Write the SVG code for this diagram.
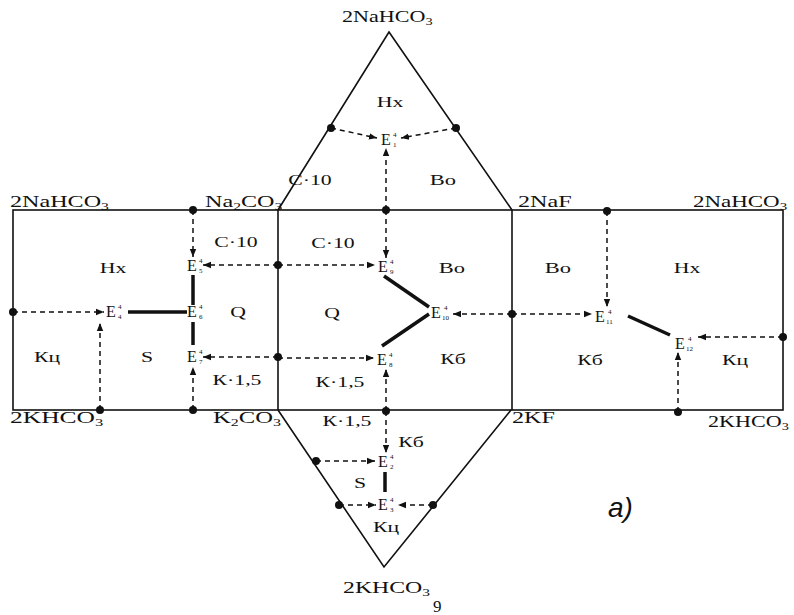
<svg xmlns="http://www.w3.org/2000/svg" width="794" height="615" viewBox="0 0 794 615">
<style>
text{font-family:"Liberation Serif","Times New Roman",serif;fill:#111}
.f text{font-size:17px}
.s{font-size:11px}
.r text{font-size:15px;text-anchor:middle}
.e{font-size:16px}
.t{font-size:7px}
.o{fill:none;stroke:#111;stroke-width:1.6}
.d{fill:none;stroke:#111;stroke-width:1.5;stroke-dasharray:5 4;marker-end:url(#ah)}
.k{fill:none;stroke:#111;stroke-width:3.5}
.p{fill:#111}
</style>
<defs>
<marker id="ah" viewBox="0 0 10 10" refX="10" refY="5" markerWidth="8" markerHeight="8" orient="auto" markerUnits="userSpaceOnUse"><path d="M0,1 L10,5 L0,9 z" fill="#111"/></marker>
</defs>
<rect width="794" height="615" fill="#fff"/>
<g id="outline">
<rect class="o" x="13" y="210" width="770" height="200"/>
<line class="o" x1="278" y1="210" x2="278" y2="410"/>
<line class="o" x1="512" y1="210" x2="512" y2="410"/>
<polyline class="o" points="278,210 389,32 512,210"/>
<polyline class="o" points="278,410 384,567 511,410"/>
</g>
<g id="formulas" class="f">
<text transform="translate(342,22) scale(1.3,1)">2NaHCO<tspan class="s" dy="3">3</tspan></text>
<text transform="translate(10,207) scale(1.42,1)">2NaHCO<tspan class="s" dy="3">3</tspan></text>
<text transform="translate(205,207) scale(1.42,1)">Na<tspan class="s" dy="3">2</tspan><tspan dy="-3">CO</tspan><tspan class="s" dy="3">3</tspan></text>
<text transform="translate(518,207) scale(1.42,1)">2NaF</text>
<text transform="translate(693,207) scale(1.35,1)">2NaHCO<tspan class="s" dy="3">3</tspan></text>
<text transform="translate(10,423) scale(1.5,1)">2KHCO<tspan class="s" dy="3">3</tspan></text>
<text transform="translate(213,423) scale(1.45,1)">K<tspan class="s" dy="3">2</tspan><tspan dy="-3">CO</tspan><tspan class="s" dy="3">3</tspan></text>
<text transform="translate(512,423) scale(1.42,1)">2KF</text>
<text transform="translate(708,427) scale(1.3,1)">2KHCO<tspan class="s" dy="3">3</tspan></text>
<text transform="translate(343,593) scale(1.4,1)">2KHCO<tspan class="s" dy="3">3</tspan></text>
<text transform="translate(433,612)">9</text>
</g>
<g id="fields" class="r">
<text transform="translate(390,107) scale(1.45,1)">Нх</text>
<text transform="translate(310,185) scale(1.45,1)">С·10</text>
<text transform="translate(443,185) scale(1.5,1)">Во</text>
<text transform="translate(113,273) scale(1.45,1)">Нх</text>
<text transform="translate(236,247) scale(1.45,1)">С·10</text>
<text transform="translate(238,317) scale(1.45,1)">Q</text>
<text transform="translate(47,362) scale(1.45,1)">Кц</text>
<text transform="translate(147,362) scale(1.45,1)">S</text>
<text transform="translate(237,385) scale(1.45,1)">К·1,5</text>
<text transform="translate(333,248) scale(1.45,1)">С·10</text>
<text transform="translate(452,273) scale(1.5,1)">Во</text>
<text transform="translate(332,318) scale(1.45,1)">Q</text>
<text transform="translate(453,364) scale(1.45,1)">Кб</text>
<text transform="translate(340,387) scale(1.45,1)">К·1,5</text>
<text transform="translate(347,426) scale(1.45,1)">К·1,5</text>
<text transform="translate(411,447) scale(1.45,1)">Кб</text>
<text transform="translate(360,488) scale(1.45,1)">S</text>
<text transform="translate(386,532) scale(1.45,1)">Кц</text>
<text transform="translate(558,273) scale(1.5,1)">Во</text>
<text transform="translate(687,273) scale(1.45,1)">Нх</text>
<text transform="translate(590,365) scale(1.45,1)">Кб</text>
<text transform="translate(735,365) scale(1.45,1)">Кц</text>
</g>
<g id="connectors">
<line class="d" x1="331" y1="128" x2="377" y2="138"/>
<line class="d" x1="456" y1="128" x2="401" y2="138"/>
<line class="d" x1="386" y1="210" x2="386" y2="148"/>
<line class="d" x1="193" y1="210" x2="193" y2="257"/>
<line class="d" x1="278" y1="265" x2="203" y2="265"/>
<line class="d" x1="13" y1="312" x2="104" y2="312"/>
<line class="d" x1="100" y1="410" x2="100" y2="323"/>
<line class="d" x1="193" y1="410" x2="193" y2="367"/>
<line class="d" x1="278" y1="357" x2="203" y2="357"/>
<line class="d" x1="386" y1="210" x2="386" y2="258"/>
<line class="d" x1="278" y1="265" x2="375" y2="265"/>
<line class="d" x1="278" y1="358" x2="374" y2="358"/>
<line class="d" x1="386" y1="411" x2="386" y2="369"/>
<line class="d" x1="512" y1="314" x2="453" y2="314"/>
<line class="d" x1="607" y1="211" x2="607" y2="307"/>
<line class="d" x1="512" y1="314" x2="592" y2="314"/>
<line class="d" x1="783" y1="337" x2="698" y2="337"/>
<line class="d" x1="678" y1="412" x2="678" y2="352"/>
<line class="d" x1="386" y1="411" x2="386" y2="453"/>
<line class="d" x1="316" y1="461" x2="375" y2="461"/>
<line class="d" x1="339" y1="505" x2="376" y2="505"/>
<line class="d" x1="433" y1="505" x2="398" y2="505"/>
<line class="k" x1="128" y1="312" x2="187" y2="312"/>
<line class="k" x1="193" y1="275" x2="193" y2="305"/>
<line class="k" x1="193" y1="322" x2="193" y2="345"/>
<line class="k" x1="384" y1="276" x2="429" y2="307"/>
<line class="k" x1="429" y1="314" x2="382" y2="346"/>
<line class="k" x1="628" y1="316" x2="670" y2="335"/>
<line class="k" x1="385" y1="472" x2="385" y2="492"/>
</g>
<g id="points" class="p">
<circle cx="331" cy="128" r="4"/>
<circle cx="456" cy="128" r="4"/>
<circle cx="386" cy="210" r="4"/>
<circle cx="193" cy="210" r="4"/>
<circle cx="278" cy="265" r="4"/>
<circle cx="13" cy="312" r="4"/>
<circle cx="100" cy="410" r="4"/>
<circle cx="193" cy="410" r="4"/>
<circle cx="278" cy="357" r="4"/>
<circle cx="386" cy="411" r="4"/>
<circle cx="512" cy="314" r="4"/>
<circle cx="607" cy="211" r="4"/>
<circle cx="783" cy="337" r="4"/>
<circle cx="678" cy="412" r="4"/>
<circle cx="316" cy="461" r="4"/>
<circle cx="339" cy="505" r="4"/>
<circle cx="433" cy="505" r="4"/>
</g>
<g id="E1"><text class="e" x="381" y="145">E</text><text class="t" x="393" y="137">4</text><text class="t" x="393" y="147">1</text></g>
<g id="E2"><text class="e" x="378" y="467">E</text><text class="t" x="390" y="459">4</text><text class="t" x="390" y="469">2</text></g>
<g id="E3"><text class="e" x="378" y="510">E</text><text class="t" x="390" y="502">4</text><text class="t" x="390" y="512">3</text></g>
<g id="E4"><text class="e" x="106" y="317">E</text><text class="t" x="118" y="309">4</text><text class="t" x="118" y="319">4</text></g>
<g id="E5"><text class="e" x="187" y="271">E</text><text class="t" x="199" y="263">4</text><text class="t" x="199" y="273">5</text></g>
<g id="E6"><text class="e" x="187" y="317">E</text><text class="t" x="199" y="309">4</text><text class="t" x="199" y="319">6</text></g>
<g id="E7"><text class="e" x="187" y="362">E</text><text class="t" x="199" y="354">4</text><text class="t" x="199" y="364">7</text></g>
<g id="E8"><text class="e" x="377" y="365">E</text><text class="t" x="389" y="357">4</text><text class="t" x="389" y="367">8</text></g>
<g id="E9"><text class="e" x="378" y="272">E</text><text class="t" x="390" y="264">4</text><text class="t" x="390" y="274">9</text></g>
<g id="E10"><text class="e" x="431" y="318">E</text><text class="t" x="444" y="310">4</text><text class="t" x="442" y="320">10</text></g>
<g id="E11"><text class="e" x="595" y="322">E</text><text class="t" x="608" y="314">4</text><text class="t" x="606" y="324">11</text></g>
<g id="E12"><text class="e" x="675" y="349">E</text><text class="t" x="688" y="341">4</text><text class="t" x="686" y="351">12</text></g>
<text x="608" y="517" style="font-family:'Liberation Sans',Arial,sans-serif;font-style:italic;font-size:28px">a)</text>
</svg>
